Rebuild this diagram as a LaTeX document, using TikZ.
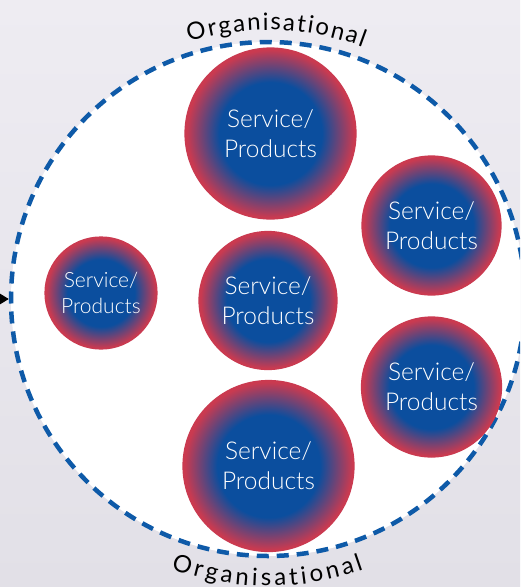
\documentclass[tikz,border=0pt]{standalone}
\usepackage{fontspec}
\setmainfont{Lato}
\newfontfamily\svclight{Lato Light}
\usetikzlibrary{decorations.text,arrows.meta,shadings}
\definecolor{cblue}{RGB}{11,78,158}
\definecolor{cred}{RGB}{202,58,80}
\definecolor{dashblue}{RGB}{14,90,168}
\definecolor{bgtop}{RGB}{238,236,242}
\definecolor{bgbot}{RGB}{226,224,231}
\pgfdeclareradialshading{svcshade}{\pgfpoint{0bp}{0bp}}{color(0bp)=(cblue); color(15bp)=(cblue); color(24.5bp)=(cred); color(25bp)=(cred); color(50bp)=(cred)}
\tikzset{
  svc/.style={circle, inner sep=0pt, minimum size=#1, shading=svcshade,
    draw=cred, line width=1.2pt, text=white, align=center,
    font=\svclight\fontsize{24.5}{30}\selectfont},
  orgcircle/.style={circle, inner sep=0pt, minimum size=514pt, fill=white,
    draw=dashblue, line width=4.5pt, dash pattern=on 12pt off 8pt},
  orgtext/.style={decorate, decoration={text along path,
    text={|\fontsize{24}{30}\selectfont|Organisational}, text align={fit to path}}}
}
\begin{document}
\begin{tikzpicture}[x=1pt,y=-1pt]
\useasboundingbox (0,0) rectangle (520,587);
\clip (0,0) rectangle (520,587);
\shade[top color=bgtop, bottom color=bgbot] (0,0) rectangle (520,587);
\node[orgcircle] (org) at (268,299) {};
\coordinate (arrowfrom) at (-20,299);
\draw[-{Triangle[length=10pt,width=12pt]}, line width=1pt] (arrowfrom) -- (org.west);
\begin{scope}[shift={(org.center)}, x=1pt, y=1pt]
  \path[orgtext] (107.1:269) arc[start angle=107.1, end angle=69.4, radius=269];
  \path[orgtext] (250.25:287) arc[start angle=250.25, end angle=289.5, radius=287];
\end{scope}
\node[svc=171pt] (p1) at (270.5,133.5) {Service/\\Products};
\node[svc=139pt] (p2) at (431.5,225.5) {Service/\\Products};
\node[svc=112pt, font=\svclight\fontsize{21}{26}\selectfont] (p3) at (101,293) {Service/\\Products};
\node[svc=138pt] (p4) at (268,300.5) {Service/\\Products};
\node[svc=140pt] (p5) at (431.5,387) {Service/\\Products};
\node[svc=171pt] (p6) at (268.5,466) {Service/\\Products};
\end{tikzpicture}
\end{document}
